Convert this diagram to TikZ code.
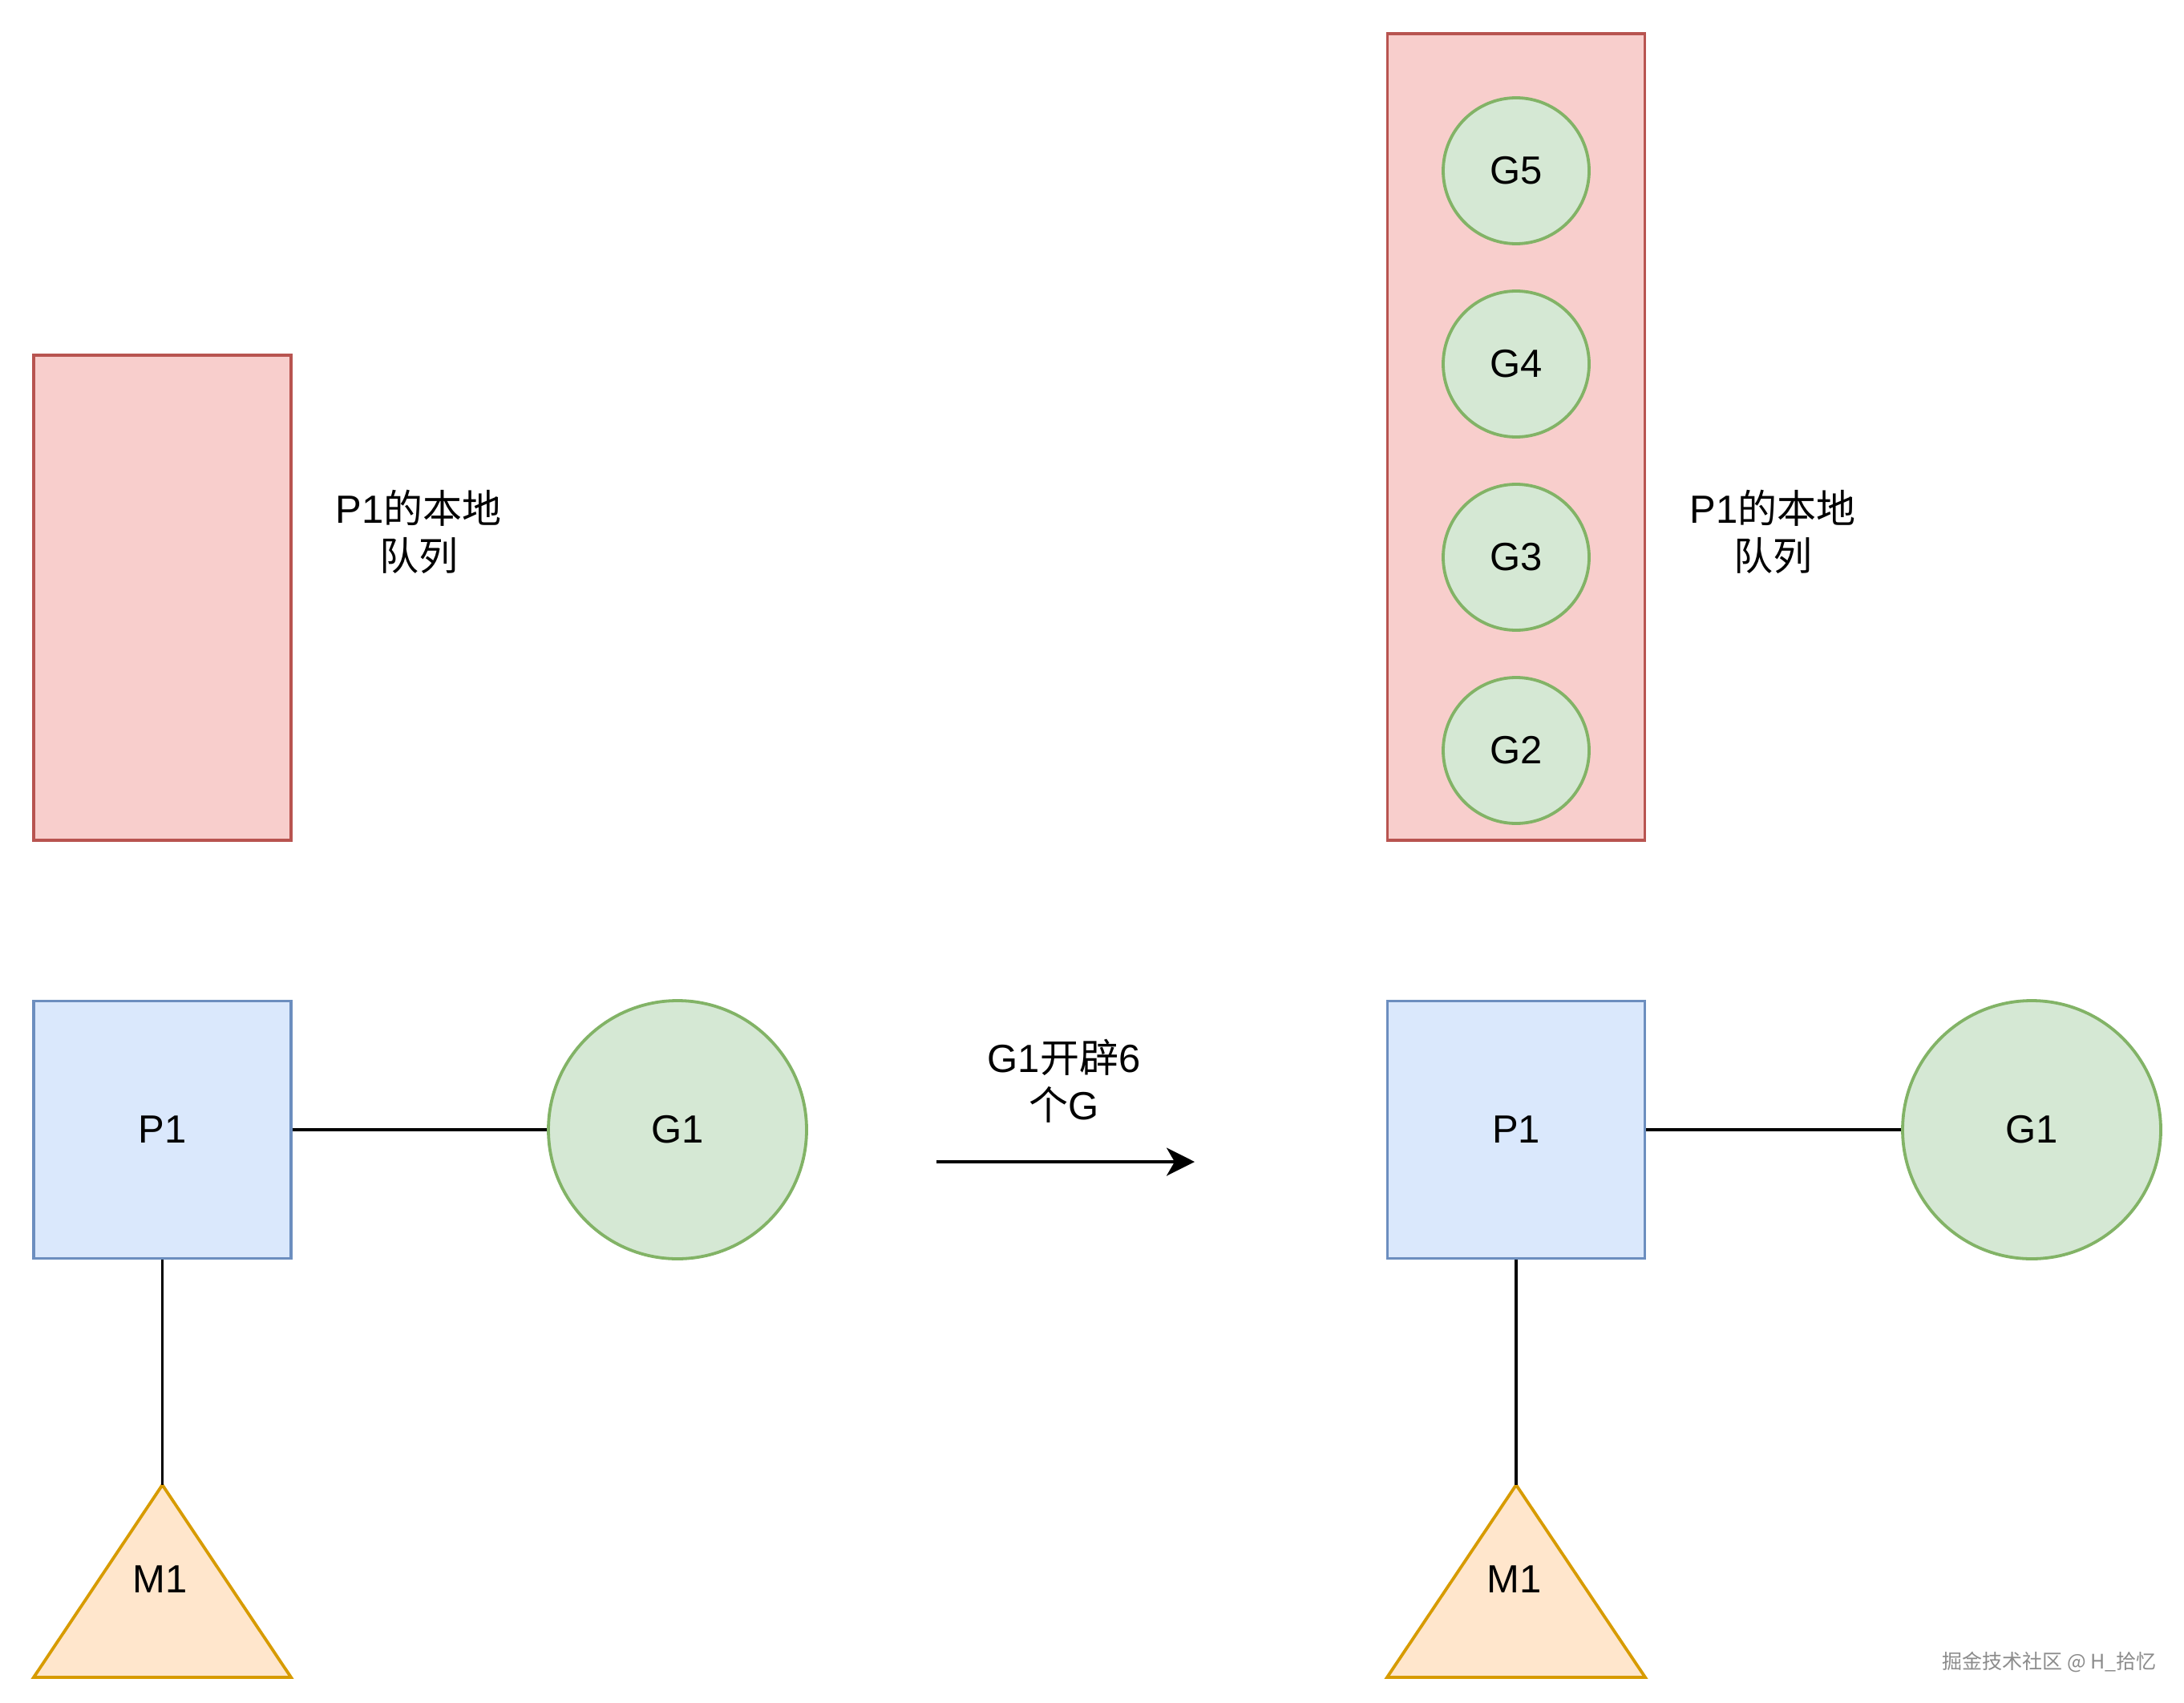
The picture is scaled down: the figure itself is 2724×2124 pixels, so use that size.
\documentclass[tikz,border=0pt]{standalone}
\usepackage{fontspec}
\setmainfont{Liberation Sans}
\newfontfamily\cjk{Noto Sans CJK SC}
\usetikzlibrary{arrows.meta}
\definecolor{qfill}{HTML}{F8CECC}
\definecolor{qline}{HTML}{B85450}
\definecolor{pfill}{HTML}{DAE8FC}
\definecolor{pline}{HTML}{6C8EBF}
\definecolor{gfill}{HTML}{D5E8D4}
\definecolor{gline}{HTML}{82B366}
\definecolor{mfill}{HTML}{FFE6CC}
\definecolor{mline}{HTML}{D79B00}
\tikzset{
  txt/.style={font=\fontsize{24.5}{29.5}\selectfont, text=black, align=center},
  queuebox/.style={draw=qline, fill=qfill, line width=1.9pt, minimum width=160.5pt, inner sep=0pt},
  pbox/.style={txt, draw=pline, fill=pfill, line width=1.9pt, minimum width=160.5pt, minimum height=160.5pt, inner sep=0pt},
  gbig/.style={txt, circle, draw=gline, fill=gfill, line width=1.9pt, minimum size=161pt, inner sep=0pt},
  gsmall/.style={txt, circle, draw=gline, fill=gfill, line width=1.9pt, minimum size=91pt, inner sep=0pt},
  mtri/.style={draw=mline, fill=mfill, line width=1.9pt, line join=miter},
  link/.style={draw=black, line width=1.8pt},
  arrowline/.style={draw=black, line width=1.8pt, -{Stealth[length=17.5pt, width=17.5pt, inset=5pt]}},
}
\begin{document}
\begin{tikzpicture}[x=0.5pt, y=-0.5pt]
\useasboundingbox (0,0) rectangle (2724,2124);
\fill[white] (0,0) rectangle (2724,2124);

% ---- left state ----
\node[queuebox, minimum height=302.5pt] (q1) at (202.5,745.5) {};
\node[txt] (q1lab) at (522,663) {P1{\cjk 的本地}\\{\cjk 队列}};
\node[pbox] (p1) at (202.5,1409) {P1};
\node[gbig] (g1) at (845,1409) {G1};
\path[mtri] (42,2092) -- (202.5,1852) -- (363,2092) -- cycle;
\coordinate (m1top) at (202.5,1852);
\node[txt] (m1) at (200,1970) {M1};
\draw[link] (p1.east) -- (g1.west);
\draw[link] (p1.south) -- (m1top);

% ---- arrow ----
\coordinate (astart) at (1168,1449);
\coordinate (aend) at (1490,1449);
\draw[arrowline] (astart) -- (aend);
\node[txt] (alab) at (1327,1348) {G1{\cjk 开辟}6\\{\cjk 个}G};

% ---- right state ----
\node[queuebox, minimum height=503pt] (q2) at (1891,545) {};
\node[gsmall] (g5) at (1891,213) {G5};
\node[gsmall] (g4) at (1891,454) {G4};
\node[gsmall] (g3) at (1891,695) {G3};
\node[gsmall] (g2) at (1891,936) {G2};
\node[txt] (q2lab) at (2211,663) {P1{\cjk 的本地}\\{\cjk 队列}};
\node[pbox] (p2) at (1891,1409) {P1};
\node[gbig] (g1b) at (2534,1409) {G1};
\path[mtri] (1730,2092) -- (1891,1852) -- (2052,2092) -- cycle;
\coordinate (m2top) at (1891,1852);
\node[txt] (m2) at (1889,1970) {M1};
\draw[link] (p2.east) -- (g1b.west);
\draw[link] (p2.south) -- (m2top);

% ---- watermark ----
\node[font=\cjk\fontsize{12.5}{15}\selectfont, text=black!45] (wm) at (2556,2073) {掘金技术社区 @ H\_拾忆};
\end{tikzpicture}
\end{document}
